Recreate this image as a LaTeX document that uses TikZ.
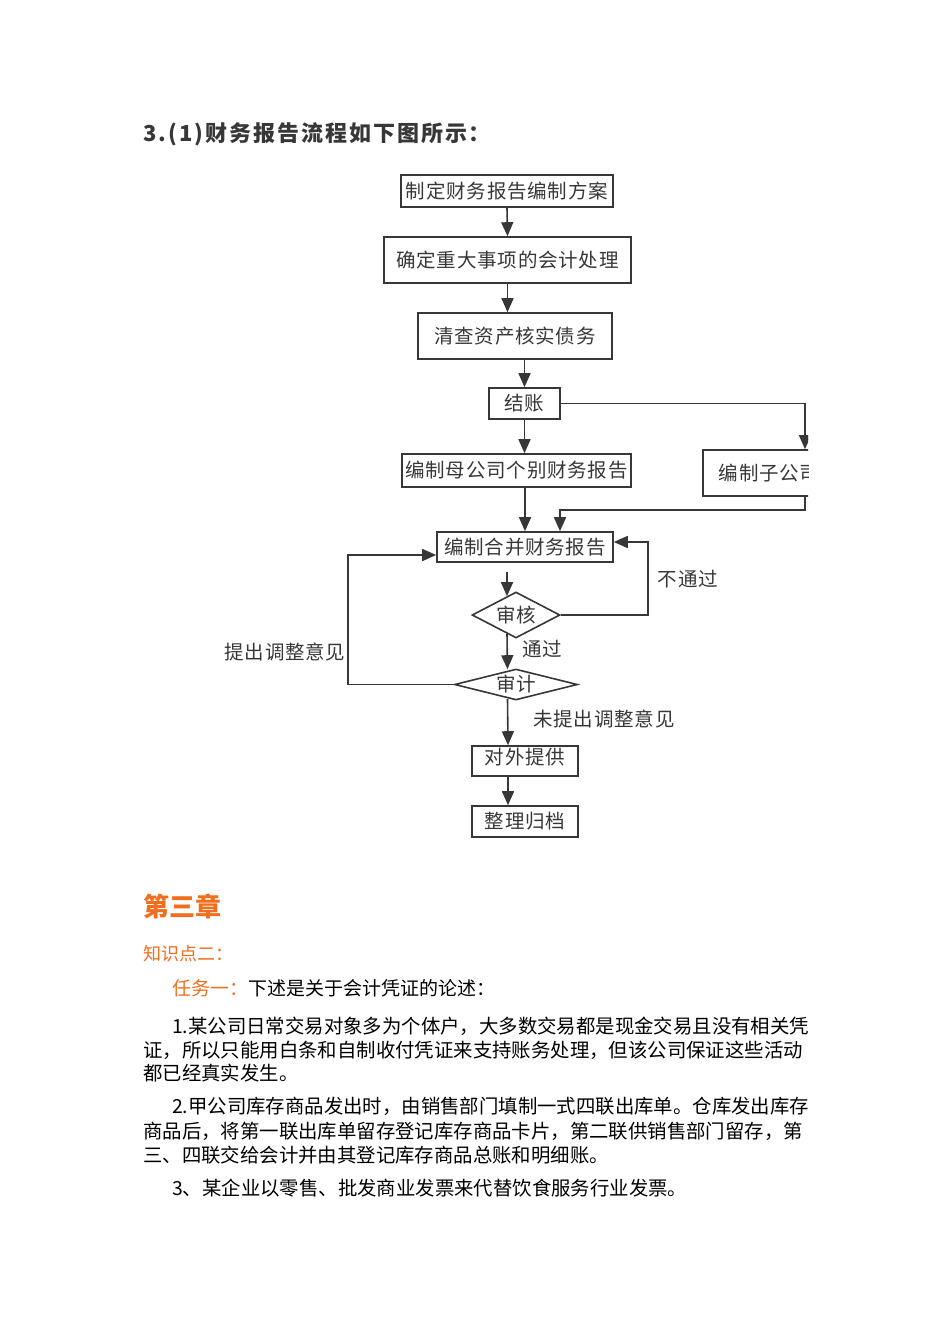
\documentclass[tikz,border=0pt]{standalone}
\usepackage{fontspec}
\setmainfont{Noto Sans CJK SC}
\usetikzlibrary{arrows.meta,shapes.geometric}
\definecolor{scanink}{RGB}{55,55,55}
\definecolor{chaporange}{RGB}{240,110,30}

\begin{document}
\begin{tikzpicture}[x=1pt,y=-1pt,
    stepbox/.style={draw=scanink,line width=1.6pt,inner sep=0pt,text=scanink,
      font=\fontsize{19.5}{22}\selectfont\addfontfeature{LetterSpace=4}},
    check/.style={diamond,draw=scanink,line width=1.6pt,inner sep=0pt,text=scanink,
      font=\fontsize{19.5}{22}\selectfont\addfontfeature{LetterSpace=4}},
    flow/.style={draw=scanink,line width=1.6pt,-{Triangle[length=14pt,width=12pt]}},
    note/.style={text=scanink,inner sep=0pt,font=\fontsize{19.5}{22}\selectfont\addfontfeature{LetterSpace=4}},
    para/.style={anchor=west,inner sep=0pt,font=\fontsize{19.4}{22}\selectfont}]
  \useasboundingbox (0,0) rectangle (950,1344);

  % heading of the scanned figure
  \node[note,anchor=west,font=\fontsize{22}{24}\selectfont\bfseries\addfontfeature{LetterSpace=9}]
    (title) at (143,134) {3.(1)财务报告流程如下图所示：};

  % steps
  \node[stepbox,minimum width=212pt,minimum height=32pt] (plan) at (507,191) {制定财务报告编制方案};
  \node[stepbox,minimum width=247pt,minimum height=46pt] (major) at (507.5,260) {确定重大事项的会计处理};
  \node[stepbox,minimum width=194pt,minimum height=46pt] (assets) at (515,336) {清查资产核实债务};
  \node[stepbox,minimum width=71pt,minimum height=31pt] (close) at (524.5,403.5) {结账};
  \node[stepbox,minimum width=229pt,minimum height=33pt] (parent) at (516.5,470.5) {编制母公司个别财务报告};
  \node[stepbox,minimum width=176pt,minimum height=30pt] (consol) at (525,547) {编制合并财务报告};
  \node[check,aspect=1.9,minimum width=88pt,minimum height=46pt] (review) at (516,615) {审核};
  \node[check,aspect=4,minimum width=123pt,minimum height=31pt] (audit) at (516,684.5) {审计};
  \node[stepbox,minimum width=106pt,minimum height=30pt,text depth=10pt] (publish) at (525,761) {对外提供};
  \node[stepbox,minimum width=106pt,minimum height=31pt] (archive) at (525,821.5) {整理归档};

  \coordinate (merge) at (560,510);
  \coordinate (fail) at (648,542);
  \coordinate (back) at (348,555);

  % the figure is cut off at its right edge
  \begin{scope}
    \clip (0,0) rectangle (808,1344);
    \node[stepbox,anchor=west,minimum width=240pt,minimum height=46pt,align=left,
      inner xsep=16pt,text width=220pt] (sub) at (702,473) {编制子公司个别财务报表};
    \draw[flow] (close.east) -| ([xshift=103pt]sub.north west);
    \draw[flow] ([xshift=103pt]sub.south west) |- (merge) -- (merge |- consol.north);
  \end{scope}

  % connectors
  \draw[flow] (plan.south) -- (major.north);
  \draw[flow] (major.south) -- (major.south |- assets.north);
  \draw[flow] (close.north |- assets.south) -- (close.north);
  \draw[flow] (close.south) -- (close.south |- parent.north);
  \draw[flow] (consol.north |- parent.south) -- (consol.north);
  \draw[flow] ([shift={(-18pt,-9pt)}]consol.south) -- ([shift={(-9pt,-5pt)}]review.north);
  \draw[flow] ([shift={(-9pt,5pt)}]review.south) -- ([shift={(-8.5pt,-1pt)}]audit.north);
  \node[note] (pass) at (542,649) {通过};
  \draw[flow] (review.east) -| (fail) -- (fail -| consol.east);
  \node[note] (nopass) at (688,579) {不通过};
  \draw[flow] (audit.west) -| (back) -- (back -| consol.west);
  \node[note] (adjust) at (285,652) {提出调整意见};
  \draw[flow] ([shift={(-8.5pt,2pt)}]audit.south) -- ([xshift=-17pt]publish.north);
  \node[note] (noadjust) at (604,719) {未提出调整意见};
  \draw[flow] ([xshift=-17pt]publish.south) -- ([xshift=-17pt]archive.north);

  % text of the page below the figure
  \node[para,text=chaporange,font=\fontsize{26}{28}\selectfont\bfseries] (chap) at (143,906) {第三章};
  \node[para,text=chaporange,font=\fontsize{18}{20}\selectfont] (point) at (143,954) {知识点二：};
  \node[para,font=\fontsize{19}{22}\selectfont] (task) at (172,988)
    {\textcolor{chaporange}{任务一：}下述是关于会计凭证的论述：};
  \node[para] (l1) at (172,1026) {1.某公司日常交易对象多为个体户，大多数交易都是现金交易且没有相关凭};
  \node[para] (l2) at (143,1050) {证，所以只能用白条和自制收付凭证来支持账务处理，但该公司保证这些活动};
  \node[para] (l3) at (143,1073) {都已经真实发生。};
  \node[para] (l4) at (172,1106) {2.甲公司库存商品发出时，由销售部门填制一式四联出库单。仓库发出库存};
  \node[para] (l5) at (143,1131) {商品后，将第一联出库单留存登记库存商品卡片，第二联供销售部门留存，第};
  \node[para] (l6) at (143,1155) {三、四联交给会计并由其登记库存商品总账和明细账。};
  \node[para] (l7) at (172,1188) {3、某企业以零售、批发商业发票来代替饮食服务行业发票。};
\end{tikzpicture}
\end{document}
